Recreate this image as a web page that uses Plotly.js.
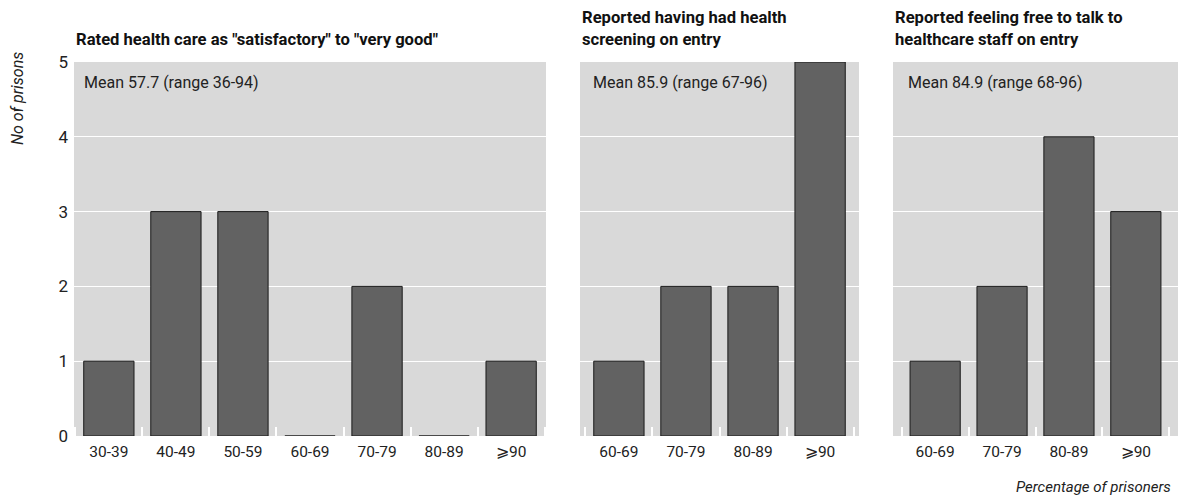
<!DOCTYPE html>
<html>
<head>
<meta charset="utf-8">
<script src="https://cdn.plot.ly/plotly-3.0.1.min.js"></script>
<style>html,body{margin:0;padding:0;background:#fff;}#chart{width:1178px;height:497px;}</style>
</head>
<body>
<div id="chart"></div>
<script>
// Data
const cats1 = ["30-39", "40-49", "50-59", "60-69", "70-79", "80-89", "⩾90"];
const vals1 = [1, 3, 3, 0, 2, 0, 1];
const cats2 = ["60-69", "70-79", "80-89", "⩾90"];
const vals2 = [1, 2, 2, 5];
const cats3 = ["60-69", "70-79", "80-89", "⩾90"];
const vals3 = [1, 2, 4, 3];
const titles = [
  'Rated health care as "satisfactory" to "very good"',
  'Reported having had health<br>screening on entry',
  'Reported feeling free to talk to<br>healthcare staff on entry'
];
const notes = ["Mean 57.7 (range 36-94)", "Mean 85.9 (range 67-96)", "Mean 84.9 (range 68-96)"];
const yTicks = [0, 1, 2, 3, 4, 5];
const yTitle = "No of prisons";
const xTitle = "Percentage of prisoners";

const FONT = '"Liberation Sans Narrow", "Roboto", "Liberation Sans", sans-serif';
const barStyle = {color: '#626262', line: {color: '#1a1a1a', width: 1}};

const traces = [
  {type: 'bar', x: cats1, y: vals1, xaxis: 'x', yaxis: 'y', marker: barStyle, width: 0.75, hoverinfo: 'skip'},
  {type: 'bar', x: cats2, y: vals2, xaxis: 'x2', yaxis: 'y', marker: barStyle, width: 0.75, hoverinfo: 'skip'},
  {type: 'bar', x: cats3, y: vals3, xaxis: 'x3', yaxis: 'y', marker: barStyle, width: 0.75, hoverinfo: 'skip'}
];

function xax(domain, range, anchor) {
  return {
    domain: domain, range: range, anchor: anchor, type: 'category',
    showgrid: false, zeroline: false, showline: false,
    ticks: 'inside', tickson: 'boundaries', ticklen: 9, tickcolor: '#ffffff', tickwidth: 2,
    ticklabelstandoff: 4,
    tickfont: {family: FONT, size: 15.5, color: '#222'}, fixedrange: true
  };
}

const yTop = (497 - 62) / 497, yBot = (497 - 436) / 497;
const titleFont = {family: FONT, size: 16.6, color: '#111'};
const noteFont = {family: FONT, size: 16, color: '#222'};
const layout = {
  width: 1178, height: 497,
  margin: {l: 0, r: 0, t: 0, b: 0},
  paper_bgcolor: '#ffffff', plot_bgcolor: '#d9d9d9',
  showlegend: false, bargap: 0.25,
  font: {family: FONT, size: 15, color: '#222'},
  xaxis: xax([74/1178, 546/1178], [-0.52, 6.52], 'y'),
  xaxis2: xax([580/1178, 859/1178], [-0.58, 3.58], 'y'),
  xaxis3: xax([893/1178, 1], [-0.63, 3.63], 'y'),
  yaxis: {
    domain: [yBot, yTop], range: [0, 5], anchor: 'x',
    tickvals: yTicks, ticktext: yTicks.map(String),
    showgrid: true, gridcolor: '#ffffff', gridwidth: 1.2,
    zeroline: false, showline: false, ticks: '',
    ticklabelstandoff: 5,
    tickfont: {family: FONT, size: 17, color: '#222'}, fixedrange: true
  },
  annotations: [
    {xref: 'x domain', yref: 'paper', x: 0, y: (497 - 51) / 497, xanchor: 'left', yanchor: 'bottom',
     text: '<b>' + titles[0] + '</b>', showarrow: false, align: 'left', font: titleFont},
    {xref: 'x2 domain', yref: 'paper', x: 0, y: (497 - 51) / 497, xanchor: 'left', yanchor: 'bottom',
     text: '<b>' + titles[1] + '</b>', showarrow: false, align: 'left', font: titleFont},
    {xref: 'x3 domain', yref: 'paper', x: 0, y: (497 - 51) / 497, xanchor: 'left', yanchor: 'bottom',
     text: '<b>' + titles[2] + '</b>', showarrow: false, align: 'left', font: titleFont},
    {xref: 'x domain', yref: 'y', x: 8/472, y: 4.72, xanchor: 'left', yanchor: 'middle',
     text: notes[0], showarrow: false, font: noteFont},
    {xref: 'x2 domain', yref: 'y', x: 11/279, y: 4.72, xanchor: 'left', yanchor: 'middle',
     text: notes[1], showarrow: false, font: noteFont},
    {xref: 'x3 domain', yref: 'y', x: 13/285, y: 4.72, xanchor: 'left', yanchor: 'middle',
     text: notes[2], showarrow: false, font: noteFont},
    {xref: 'paper', yref: 'paper', x: 18/1178, y: (497 - 99) / 497, xanchor: 'center', yanchor: 'middle',
     textangle: -90, text: '<i>' + yTitle + '</i>', showarrow: false, font: {family: FONT, size: 16, color: '#222'}},
    {xref: 'paper', yref: 'paper', x: 1173/1178, y: (497 - 487) / 497, xanchor: 'right', yanchor: 'middle',
     text: '<i>' + xTitle + '</i>', showarrow: false, font: {family: FONT, size: 15, color: '#222'}}
  ]
};

Plotly.newPlot('chart', traces, layout, {staticPlot: true, displayModeBar: false});
</script>
</body>
</html>
